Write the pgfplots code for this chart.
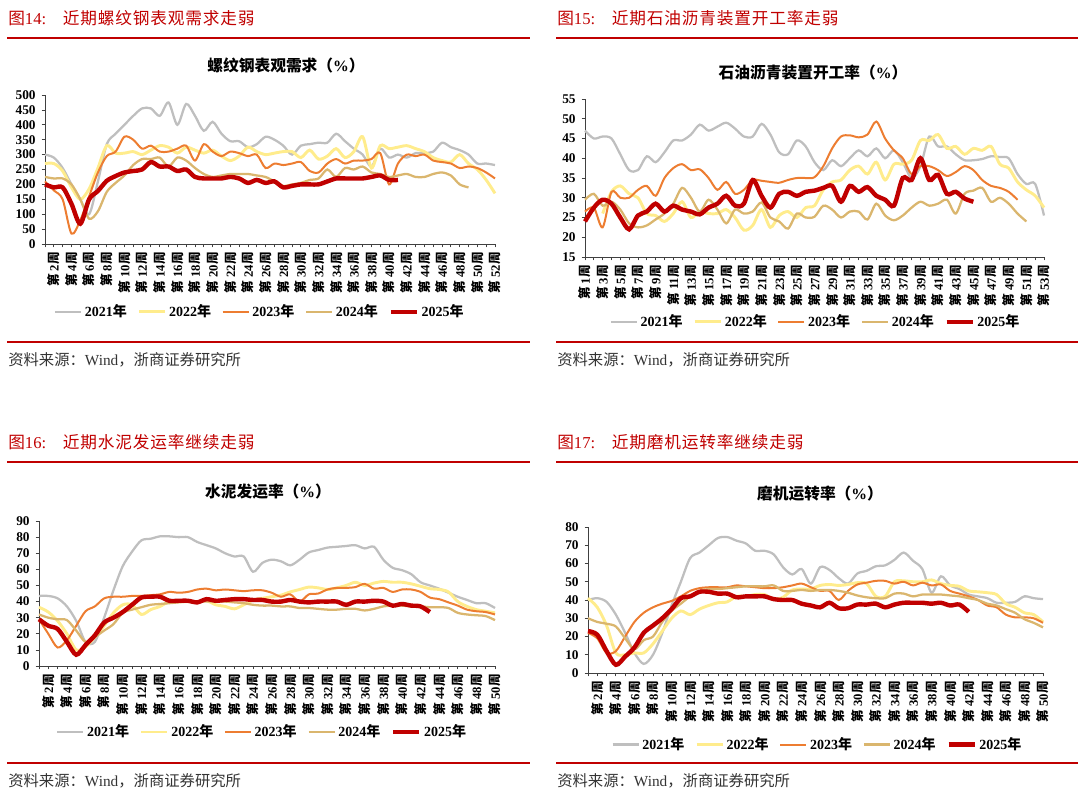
\documentclass[border=0pt]{standalone}
\usepackage{pgfplots}
\pgfplotsset{compat=1.18}
\usepackage{pgfplotstable}
\usepackage{fontspec}
\setmainfont{Liberation Serif}
\newfontfamily\cjk{Noto Sans CJK SC}

\definecolor{c21}{RGB}{191,191,191}
\definecolor{c22}{RGB}{255,236,140}
\definecolor{c23}{RGB}{237,125,49}
\definecolor{c24}{RGB}{218,182,110}
\definecolor{c25}{RGB}{192,0,0}
\definecolor{hred}{RGB}{192,0,0}

% rebar apparent demand, weeks 1-52
\pgfplotstableread{
w a b c d e
1 300 270 210 225 200
2 290 270 180 220 190
3 255 245 150 220 190
4 200 190 35 200 135
5 150 150 80 150 68
6 100 185 160 85 150
7 210 255 240 110 178
8 335 330 295 175 212
9 370 305 310 205 228
10 400 305 360 230 240
11 430 310 350 265 245
12 455 300 320 285 250
13 455 315 330 285 275
14 430 330 310 290 260
15 475 325 310 260 260
16 400 305 320 290 245
17 470 325 330 280 250
18 430 315 280 255 225
19 380 305 335 235 220
20 410 315 310 225 220
21 370 295 295 230 220
22 345 280 310 235 225
23 345 295 305 235 220
24 325 325 295 235 205
25 335 310 300 230 215
26 360 300 255 225 205
27 350 305 270 210 210
28 330 310 265 195 190
29 300 310 270 200 195
30 330 290 275 205 200
31 335 315 245 215 200
32 340 285 240 220 200
33 340 295 270 250 210
34 370 320 285 225 220
35 345 290 270 255 220
36 320 310 280 250 220
37 300 360 280 260 220
38 260 255 285 240 225
39 320 330 305 235 230
40 290 320 200 225 215
41 300 325 270 230 215
42 290 330 300 235 nan
43 305 320 295 225 nan
44 305 310 300 225 nan
45 310 290 280 235 nan
46 340 280 275 240 nan
47 325 275 270 230 nan
48 315 300 255 200 nan
49 300 270 260 190 nan
50 270 250 255 nan nan
51 270 215 240 nan nan
52 265 170 220 nan nan
}\tA

% asphalt plant operating rate, weeks 1-53
\pgfplotstableread{
w a b c d e
1 47 nan 26.5 29.5 24
2 45 nan 27.5 31 27.5
3 45.5 26 22.5 28 29.5
4 45 31.5 31.5 29 28.5
5 41 33 30 27 25
6 37 31 30 23.5 22
7 37 30 32 22.5 25.5
8 40.5 26 33 23 26.5
9 39 25.5 30.5 24.5 28.5
10 41.5 24 35 26 26.5
11 44.5 26 37.5 28.5 28
12 44.5 29 38.5 32.5 27
13 46 25 37 30 26.5
14 48.5 26.5 37.2 26.5 25.8
15 47 26 35 29.5 27.5
16 48 26 32 27 28.5
17 49 27 34 23.5 30.5
18 47.5 25 31 27 28
19 45.5 21.8 32 26 28.5
20 45.5 23 34.5 26.5 34.5
21 48.7 27 34.3 28.8 30.5
22 46 22.5 34 25 27.5
23 41.5 25.5 33.8 24 31
24 41 26.5 34.5 22.2 31.5
25 44.5 25 35 26 30.5
26 43 27.5 35 25 31.5
27 39 28 35.2 25.2 31.8
28 37 32 38 28 32.5
29 39.5 34 42.5 27 33
30 38 34.5 45.5 25 29
31 40 37 45.8 26.5 33
32 42 38 45.3 26.5 31.5
33 40.5 36 46 24.5 32.7
34 42.5 39 49.3 28.5 30.5
35 40 34.5 45 25.5 29.5
36 42 38.5 42 24.3 28
37 39 38.5 40 25.5 35
38 35 39.5 36 27.5 34.5
39 38 44.5 38 29 40
40 45.5 44.5 38 28 34.5
41 43 46 37 28.5 35.8
42 43 42.5 35.5 29.5 31
43 41 43 36.5 26 31.5
44 39.5 41 38 31 29.8
45 39.5 42.5 37 31.8 29
46 39.8 42 34.5 32.5 nan
47 40.5 43 33 29 nan
48 40.3 38.5 32.5 30 nan
49 40 37.5 31.5 28.5 nan
50 36 34 29.5 26 nan
51 33.5 32 nan 24 nan
52 33.5 30.5 nan nan nan
53 25.5 27.5 nan nan nan
}\tB

% cement shipment rate, weeks 1-50
\pgfplotstableread{
w a b c d e
1 43.5 36.5 29 32 29
2 43.5 33.5 20 30 25
3 42 28 11.5 29 23
4 37 20 16 28.5 15
5 28 10 25 22 7
6 15 12 34 15 13
7 15 18 37 18 19
8 30 25 42 22 27
9 47 33 43 26 30
10 62 38 43 33 33.5
11 71 38 43.5 35 38
12 78 32 43.5 36.5 42.5
13 79 35 44 38 43
14 80.5 37 44.5 38.5 43
15 80.5 40 46 39 40.5
16 80 40 45.5 39.5 40.5
17 80 40 46 40 40.5
18 77 40 47.5 40 39.5
19 75 40.5 48 40 41.5
20 73 38 47 40 40.5
21 70 37 47.5 40 41
22 68 35.5 47 39.5 41.5
23 68 38 46.5 39 41.5
24 58.5 41 47 38 41
25 64 42 47 37.5 41
26 66 43 45.5 37.5 40
27 65 44 43 37 40
28 62.5 46 44.5 37 41
29 66 47.5 40 36 40
30 70.5 49 44.5 36 39.5
31 72 48.5 45 35.5 40
32 73.5 47.5 47.5 35 40
33 74 48.5 48.5 35 40
34 74.5 50 48.5 35.5 38
35 75 52 49 35.5 40
36 73 50 51 34.5 40
37 74 51.5 48 35.5 40.5
38 66 52.5 48.5 37 40
39 61 52 46 37.5 37.5
40 59.5 52 47.5 37.5 38.5
41 57 51 47.5 37 37.5
42 52 49.5 46 37 37
43 50 48 42.5 36.5 33.5
44 48 47.5 41.5 36.5 nan
45 45.5 46 39.5 36 nan
46 43 40 37.5 33 nan
47 41 37 35 32 nan
48 39 35 34 31.5 nan
49 39 34 33.5 31 nan
50 36 33 32 28.5 nan
}\tC

% grinding mill operating rate, weeks 1-50
\pgfplotstableread{
w a b c d e
1 40 41 22 30 23
2 41 36 19 28 21
3 39 26 11 27 12
4 32 11 12 25.5 4.5
5 22 10 20 19 9
6 11 11 28 13 14
7 5 11 33 18 22
8 10 16 36 20 26
9 22 23 38 28 30
10 37 30 39.5 34 35
11 50 34 42 38 41
12 63 32 45 42 42
13 66 35 46.5 45 44.5
14 70 37 47 46 44.5
15 74 38.5 47 46 43.5
16 74.5 39 47 46.5 43.5
17 72.5 42 48 47 41.5
18 71 42 47.5 47.5 42
19 67 43 47 47.5 42
20 67 43 46.5 47.5 42
21 65 40.5 46.5 48 40.5
22 58 41.5 47 45 40
23 54 45.5 48 45 40
24 57 46 49 45.5 38
25 49 46 47 45 37
26 58 48 45 45.5 36
27 56.5 48.5 45 45.5 38.5
28 52 48 40 45 35.5
29 49 48.5 45 44 35.5
30 54.5 49.5 48.5 42.5 37.5
31 56 49 49.5 41.5 37.5
32 58.5 42 50.5 41 38
33 59 42 50.5 41 36
34 62 50 49 43.5 37.5
35 66 50.5 50 43.5 38.5
36 61.5 50 48 42 38.5
37 57 50 49.5 43 38.5
38 44 51 48 43 38
39 53 49 48.5 43 38.5
40 48 48 45 42.5 37
41 46 47.5 43.5 42 37.5
42 43 45 42 41 33.5
43 42 44.5 40 40 nan
44 41 44 37 38 nan
45 38.5 43 36 37 nan
46 38.5 38 32 35 nan
47 39 36 30.5 33 nan
48 42 33 30.5 29.5 nan
49 41 32 30 27.5 nan
50 40.5 28 27.5 25 nan
}\tD

\pgfplotsset{
  panel/.style={
    scale only axis,
    anchor=south west,
    axis lines*=left,
    axis line style={black!75, line width=0.6pt},
    tick style={black!75, line width=0.6pt},
    tick align=outside,
    major tick length=2.5pt,
    minor tick length=2.5pt,
    clip=false,
    unbounded coords=jump,
    /pgf/number format/assume math mode=true,
    yticklabel style={font=\fontsize{10}{11}\selectfont\bfseries, xshift=-1pt},
    xticklabel style={rotate=90, anchor=east, font=\fontsize{9.5}{10}\selectfont\bfseries},
    xticklabel={{\cjk 第}\ \pgfmathparse{int(\tick)}\pgfmathresult{\cjk 周}},
    legend columns=5,
    legend style={draw=none, fill=none, anchor=center, inner sep=0pt,
      font=\fontsize{10.5}{12}\selectfont\bfseries,
      /tikz/every even column/.append style={column sep=6pt}},
    legend image code/.code={\draw[##1] (0pt,0pt) -- (19.5pt,0pt);},
    every axis plot/.append style={smooth, no markers},
  },
  s21/.style={c21, line width=1.7pt},
  s22/.style={c22, line width=2.2pt},
  s23/.style={c23, line width=1.5pt},
  s24/.style={c24, line width=1.7pt},
  s25/.style={c25, line width=3.3pt},
}

\newcommand{\series}[1]{%
  \addplot[s21] table[x=w, y=a] {#1}; \addlegendentry{2021{\cjk 年}}
  \addplot[s22] table[x=w, y=b] {#1}; \addlegendentry{2022{\cjk 年}}
  \addplot[s23] table[x=w, y=c] {#1}; \addlegendentry{2023{\cjk 年}}
  \addplot[s24] table[x=w, y=d] {#1}; \addlegendentry{2024{\cjk 年}}
  \addplot[s25] table[x=w, y=e] {#1}; \addlegendentry{2025{\cjk 年}}
}

\begin{document}
\begin{tikzpicture}
\path[use as bounding box] (0pt,0pt) rectangle (810pt,-603pt);

% panel 14
\begin{axis}[panel, at={(33.75pt,-183pt)}, width=337.5pt, height=111.75pt,
  xmin=1, xmax=52, ymin=0, ymax=500, ytick distance=50,
  xtick={2,4,...,52}, minor xtick={1,3,...,51},
  legend style={at={(0.478,-0.456)}}]
\series{\tA}
\end{axis}

% panel 15
\begin{axis}[panel, at={(438.75pt,-192.75pt)}, width=344.25pt, height=118.5pt,
  xmin=1, xmax=53, ymin=15, ymax=55, ytick distance=5,
  xtick={1,3,...,53}, minor xtick={2,4,...,52},
  legend style={at={(0.503,-0.41)}}]
\series{\tB}
\end{axis}

% panel 16
\begin{axis}[panel, at={(29.25pt,-499.5pt)}, width=342pt, height=108.75pt,
  xmin=1, xmax=50, ymin=0, ymax=90, ytick distance=10,
  xtick={2,4,...,50}, minor xtick={1,3,...,49},
  legend style={at={(0.49,-0.455)}}]
\series{\tC}
\end{axis}

% panel 17
\begin{axis}[panel, at={(441pt,-504.75pt)}, width=341.25pt, height=109.5pt,
  xmin=1, xmax=50, ymin=0, ymax=80, ytick distance=10,
  xtick={2,4,...,50}, minor xtick={1,3,...,49},
  legend style={at={(0.505,-0.49)}}]
\series{\tD}
\end{axis}

\begin{scope}[x=0.75pt, y=-0.75pt]
  \tikzset{hd/.style={anchor=west, inner sep=0pt, text=hred, font=\fontsize{12.5}{14}\selectfont},
           tt/.style={inner sep=0pt, font=\fontsize{11.8}{13}\selectfont\bfseries},
           src/.style={anchor=west, inner sep=0pt, text=black!80, font=\fontsize{11.5}{13}\selectfont},
           rl/.style={hred, line width=1.5pt}}
  \node[hd] at (8,18) {{\cjk 图}14:\quad{\cjk\addfontfeature{LetterSpace=5} 近期螺纹钢表观需求走弱}};
  \node[hd] at (557,18) {{\cjk 图}15:\quad{\cjk\addfontfeature{LetterSpace=5} 近期石油沥青装置开工率走弱}};
  \node[hd] at (8,442) {{\cjk 图}16:\quad{\cjk\addfontfeature{LetterSpace=5} 近期水泥发运率继续走弱}};
  \node[hd] at (557,442) {{\cjk 图}17:\quad{\cjk\addfontfeature{LetterSpace=5} 近期磨机运转率继续走弱}};
  \draw[rl] (7,38) -- (530,38);
  \draw[rl] (556,38) -- (1078,38);
  \draw[rl] (7,462) -- (530,462);
  \draw[rl] (556,462) -- (1078,462);
  \draw[rl] (7,342) -- (530,342);
  \draw[rl] (556,342) -- (1078,342);
  \draw[rl] (7,763) -- (530,763);
  \draw[rl] (556,763) -- (1078,763);
  \node[tt] at (286,65) {{\cjk 螺纹钢表观需求（}\%{\cjk ）}};
  \node[tt] at (813,73) {{\cjk 石油沥青装置开工率（}\%{\cjk ）}};
  \node[tt] at (268,492) {{\cjk 水泥发运率（}\%{\cjk ）}};
  \node[tt] at (820,494) {{\cjk 磨机运转率（}\%{\cjk ）}};
  \node[src] at (8,360) {{\cjk 资料来源：}Wind{\cjk ，浙商证券研究所}};
  \node[src] at (557,360) {{\cjk 资料来源：}Wind{\cjk ，浙商证券研究所}};
  \node[src] at (8,781) {{\cjk 资料来源：}Wind{\cjk ，浙商证券研究所}};
  \node[src] at (557,781) {{\cjk 资料来源：}Wind{\cjk ，浙商证券研究所}};
\end{scope}
\end{tikzpicture}
\end{document}
